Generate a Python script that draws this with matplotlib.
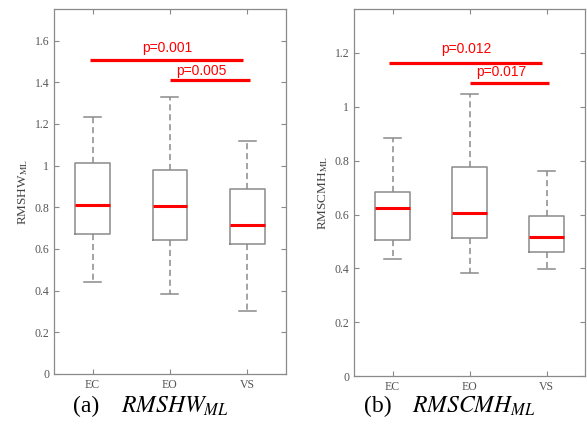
import matplotlib.pyplot as plt
from matplotlib.ticker import FormatStrFormatter

plt.rcParams['mathtext.fontset'] = 'stix'

groups = ["EC", "EO", "VS"]

# panel (a) RMSHW_ML
hw_whislo = [0.44, 0.385, 0.30]
hw_q1 = [0.67, 0.645, 0.625]
hw_med = [0.81, 0.808, 0.715]
hw_q3 = [1.015, 0.98, 0.89]
hw_whishi = [1.232, 1.33, 1.12]
hw_pvals = ["p=0.001", "p=0.005"]

# panel (b) RMSCMH_ML
cmh_whislo = [0.436, 0.382, 0.399]
cmh_q1 = [0.506, 0.513, 0.462]
cmh_med = [0.624, 0.606, 0.516]
cmh_q3 = [0.682, 0.775, 0.593]
cmh_whishi = [0.886, 1.047, 0.76]
cmh_pvals = ["p=0.012", "p=0.017"]

GRAY = "#8a8a8a"
TXT = "#555555"


def draw_panel(ax, lo, q1, med, q3, hi, pvals, sig_y, txt_y, ylim, yticks, ylabel):
    stats = []
    for i, g in enumerate(groups):
        stats.append(dict(label=g, whislo=lo[i], q1=q1[i], med=med[i],
                          q3=q3[i], whishi=hi[i], fliers=[]))
    ax.bxp(stats, positions=[1, 2, 3], widths=0.45, showfliers=False,
           boxprops=dict(color=GRAY, linewidth=1.1),
           whiskerprops=dict(color=GRAY, linewidth=1.1, linestyle=(0, (4, 2.5))),
           capprops=dict(color=GRAY, linewidth=1.1),
           medianprops=dict(color="red", linewidth=2.2),
           capwidths=0.22)

    # significance bars
    ax.plot([0.96, 2.94], [sig_y[0], sig_y[0]], color="red", lw=2.3, solid_capstyle="butt")
    ax.plot([2.0, 3.03], [sig_y[1], sig_y[1]], color="red", lw=2.3, solid_capstyle="butt")
    ax.text(1.96, txt_y[0], pvals[0], color="red", ha="center", va="center",
            fontsize=10, family="Liberation Sans")
    ax.text(2.41, txt_y[1], pvals[1], color="red", ha="center", va="center",
            fontsize=10, family="Liberation Sans")

    ax.set_xlim(0.5, 3.5)
    ax.set_ylim(*ylim)
    ax.set_yticks(yticks)
    ax.yaxis.set_major_formatter(FormatStrFormatter("%g"))
    ax.set_xticks([1, 2, 3])
    ax.set_xticklabels(groups)
    ax.tick_params(direction="in", length=3.5, width=0.8, color=GRAY,
                   labelcolor=TXT, labelsize=8.5, top=True, right=True)
    for lab in ax.get_xticklabels() + ax.get_yticklabels():
        lab.set_family("Liberation Serif")
    for sp in ax.spines.values():
        sp.set_color(GRAY)
        sp.set_linewidth(0.9)
    ax.set_ylabel(ylabel, fontsize=9.5, color="#444444", family="Liberation Serif", labelpad=3)


fig = plt.figure(figsize=(5.87, 4.25), dpi=100)
ax1 = fig.add_axes([0.092, 0.12, 0.395, 0.858])
ax2 = fig.add_axes([0.603, 0.115, 0.394, 0.863])

draw_panel(ax1, hw_whislo, hw_q1, hw_med, hw_q3, hw_whishi, hw_pvals,
           [1.507, 1.41], [1.565, 1.455], (0, 1.75),
           [0, 0.2, 0.4, 0.6, 0.8, 1.0, 1.2, 1.4, 1.6], r"RMSHW$_{\mathrm{ML}}$")
draw_panel(ax2, cmh_whislo, cmh_q1, cmh_med, cmh_q3, cmh_whishi, cmh_pvals,
           [1.162, 1.087], [1.213, 1.128], (0, 1.362),
           [0, 0.2, 0.4, 0.6, 0.8, 1.0, 1.2], r"RMSCMH$_{\mathrm{ML}}$")

cap_y = 1 - 406 / 425
fig.text(73 / 587, cap_y, "(a)", fontsize=17, va="center", ha="left", family="Liberation Serif")
fig.text(121 / 587, cap_y, r"$RMSHW_{ML}$", fontsize=17, va="center", ha="left")
fig.text(364 / 587, cap_y, "(b)", fontsize=17, va="center", ha="left", family="Liberation Serif")
fig.text(412 / 587, cap_y, r"$RMSCMH_{ML}$", fontsize=17, va="center", ha="left")

fig.savefig("out.png", dpi=100)
